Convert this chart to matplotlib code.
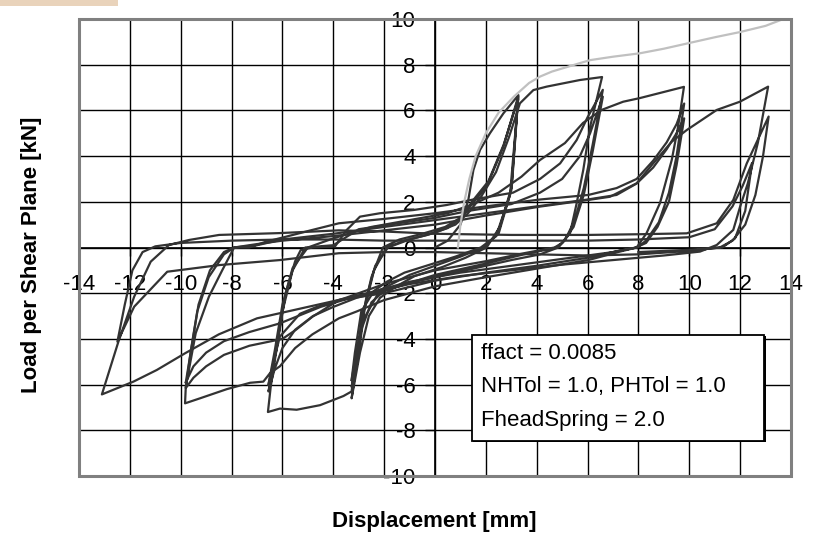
import matplotlib
matplotlib.use("Agg")
import matplotlib.pyplot as plt
import numpy as np
from matplotlib.patches import Rectangle

plt.rcParams["font.family"] = ["Liberation Sans", "DejaVu Sans"]
plt.rcParams["axes.unicode_minus"] = False

# monotonic push-over curve (grey)
mono = [(0.9, 0.0), (1.0, 1.0), (1.15, 2.0), (1.35, 3.0), (1.6, 4.0), (2.0, 5.0),
        (2.5, 5.9), (3.1, 6.6), (3.7, 7.2), (4.13, 7.48), (4.6, 7.7), (5.7, 8.07),
        (6.1, 8.2), (7.0, 8.35), (8.06, 8.5), (9.0, 8.7), (10.0, 8.95),
        (11.0, 9.2), (12.0, 9.43), (13.0, 9.7), (13.7, 10.0)]

# cyclic test, cycles at +/-3.2 mm
cyc_3mm = [(0, 0), (0.5, 0.3), (1.0, 1.0), (1.31, 2.08), (1.51, 3.39), (1.77, 4.27),
           (2.16, 5.0), (2.69, 5.87), (3.28, 6.67),
           (3.02, 2.66), (2.55, 0.9), (2.03, 0.0), (1.2, -0.45), (0.3, -0.85),
           (-0.8, -1.25), (-1.6, -1.75), (-2.16, -2.2), (-2.6, -3.0), (-2.95, -4.6),
           (-3.28, -6.6),
           (-3.05, -4.8), (-2.85, -3.0), (-2.5, -1.3), (-2.05, 0.0), (-1.4, 0.35),
           (-0.5, 0.6), (0.4, 0.9), (1.0, 1.3), (1.38, 1.79), (2.03, 2.66),
           (2.69, 4.41), (3.27, 6.6),
           (3.0, 2.5), (2.5, 0.6), (1.9, 0.0), (1.0, -0.4), (0.0, -0.8), (-1.0, -1.2),
           (-1.7, -1.6), (-2.16, -1.86), (-2.82, -3.17), (-3.08, -5.2), (-3.28, -6.1),
           (-3.0, -4.3), (-2.75, -2.6), (-2.4, -1.0), (-1.9, 0.0), (-1.2, 0.3),
           (-0.3, 0.55), (0.5, 0.85), (1.1, 1.35), (1.45, 2.0), (2.1, 2.9),
           (2.7, 4.5), (3.27, 6.5),
           (2.95, 2.3), (2.4, 0.5), (1.8, 0.0), (0.8, -0.4), (-0.2, -0.75),
           (-1.2, -1.1), (-1.9, -1.5), (-2.4, -1.9), (-2.9, -2.8), (-3.15, -4.6),
           (-3.28, -5.8)]

# cycles at +/-6.5 mm
cyc_6mm = [(-3.28, -5.8), (-3.0, -4.0), (-2.7, -2.2), (-2.35, -0.8), (-1.85, 0.0),
           (-1.0, 0.35), (0.0, 0.65), (0.8, 1.0), (1.3, 1.5), (1.8, 2.2), (2.4, 3.3),
           (2.9, 4.8), (3.34, 6.31), (3.87, 6.89), (4.39, 7.04), (5.7, 7.33),
           (6.57, 7.46),
           (6.1, 5.29), (5.83, 3.39), (5.57, 1.93), (5.31, 0.62), (4.85, 0.0),
           (4.13, -0.3), (3.0, -0.55), (2.0, -0.8), (1.0, -1.05), (0.0, -1.3),
           (-1.0, -1.55), (-2.0, -1.9), (-2.5, -2.4), (-2.9, -3.6), (-3.15, -5.2),
           (-3.28, -6.3), (-3.6, -6.5), (-4.52, -6.9), (-5.44, -7.1), (-6.1, -7.05),
           (-6.57, -7.2),
           (-6.46, -6.09), (-6.13, -3.75), (-5.87, -2.0), (-5.5, -0.6), (-5.28, -0.11),
           (-4.82, 0.0), (-3.93, 0.05), (-3.47, 0.77), (-2.95, 1.35), (-2.16, 1.5),
           (-0.85, 1.64), (0.46, 1.86), (1.5, 2.1), (3.07, 2.4), (4.13, 3.0),
           (4.92, 3.68), (5.57, 4.7), (6.0, 5.7), (6.6, 6.9),
           (6.2, 4.5), (5.85, 2.6), (5.5, 1.2), (5.1, 0.3), (4.8, 0.0), (3.5, -0.3),
           (2.0, -0.7), (0.0, -1.2), (-2.0, -1.9), (-3.08, -2.2), (-4.0, -2.6),
           (-4.8, -3.0), (-5.5, -3.6), (-6.0, -4.4), (-6.3, -5.3), (-6.55, -6.3),
           (-6.3, -4.8), (-6.0, -2.8), (-5.6, -1.0), (-5.1, 0.0), (-4.0, 0.1),
           (-3.0, 0.8), (-1.5, 1.05), (0.0, 1.3), (1.3, 1.6), (3.0, 1.9), (4.13, 2.4),
           (5.0, 3.0), (5.7, 4.0), (6.1, 5.0), (6.6, 6.6),
           (6.2, 4.2), (5.85, 2.3), (5.45, 0.9), (5.0, 0.2), (4.7, 0.0), (3.5, -0.25),
           (2.0, -0.6), (0.0, -1.0), (-2.0, -1.6), (-3.5, -2.2), (-4.65, -2.6),
           (-5.31, -2.9), (-6.1, -3.9), (-6.35, -5.0), (-6.55, -6.0)]

# cycles at +/-9.8 mm
cyc_10mm = [(-6.55, -6.0), (-6.3, -4.5), (-6.0, -2.5), (-5.6, -0.9), (-5.0, 0.0),
            (-4.0, 0.4), (-2.5, 0.9), (-1.0, 1.2), (0.5, 1.5), (1.5, 1.9), (2.5, 2.4),
            (3.4, 3.1), (4.13, 3.83), (5.11, 4.57), (5.82, 5.45), (6.55, 6.02),
            (6.88, 6.16), (7.4, 6.38), (8.06, 6.54), (9.79, 7.03),
            (9.56, 5.29), (9.31, 3.83), (8.85, 1.95), (8.32, 0.63), (7.93, 0.0),
            (7.27, -0.18), (6.03, -0.55), (4.13, -0.9), (2.0, -1.3), (0.0, -1.7),
            (-2.0, -2.3), (-3.08, -2.8), (-3.78, -3.1), (-4.82, -3.8), (-5.5, -4.4),
            (-6.1, -5.2), (-6.49, -5.5), (-6.75, -5.87), (-7.27, -5.92),
            (-8.19, -6.2), (-9.24, -6.6), (-9.83, -6.82),
            (-9.8, -6.09), (-9.41, -3.75), (-8.89, -2.15), (-8.36, -0.98),
            (-7.9, 0.0), (-7.31, 0.0), (-6.66, 0.25), (-5.87, 0.47), (-4.82, 0.77),
            (-3.78, 1.06), (-2.0, 1.25), (0.0, 1.5), (2.0, 1.8), (4.13, 2.1),
            (6.03, 2.3), (7.14, 2.6), (7.93, 3.0), (8.58, 3.8), (9.11, 4.6),
            (9.5, 5.4), (9.8, 6.3),
            (9.5, 4.0), (9.2, 2.4), (8.8, 1.1), (8.3, 0.3), (7.95, 0.0), (7.2, -0.15),
            (6.0, -0.45), (4.0, -0.8), (2.0, -1.1), (0.0, -1.45), (-2.0, -2.0),
            (-3.78, -2.3), (-4.82, -3.03), (-5.48, -3.61), (-6.0, -4.0), (-7.3, -4.3),
            (-8.3, -4.7), (-9.0, -5.2), (-9.5, -5.7), (-9.8, -6.15),
            (-9.6, -4.5), (-9.35, -2.8), (-8.9, -1.3), (-8.3, -0.3), (-7.9, 0.0),
            (-7.0, 0.1), (-6.0, 0.35), (-4.0, 0.6), (-2.0, 0.9), (0.0, 1.2), (2.0, 1.5),
            (4.0, 1.8), (6.0, 2.1), (7.14, 2.3), (7.93, 2.8), (8.58, 3.5), (9.11, 4.3),
            (9.5, 5.0), (9.8, 5.65),
            (9.5, 3.6), (9.2, 2.0), (8.75, 0.9), (8.3, 0.2), (7.9, 0.0), (7.0, -0.2),
            (5.0, -0.5), (3.0, -0.8), (1.0, -1.1), (-1.0, -1.5), (-3.0, -2.1),
            (-4.5, -2.6), (-6.1, -3.32), (-7.3, -3.7), (-8.3, -4.1), (-9.0, -4.6),
            (-9.5, -5.2), (-9.8, -5.9)]

# cycles at +/-13 mm
cyc_13mm = [(-9.8, -5.9), (-9.55, -4.2), (-9.3, -2.5), (-8.85, -1.0), (-8.3, -0.2),
            (-7.9, 0.0), (-7.0, 0.15), (-6.0, 0.3), (-4.0, 0.5), (-2.0, 0.75),
            (0.0, 1.0), (2.0, 1.4), (4.13, 1.79), (6.02, 2.08), (6.88, 2.22),
            (7.93, 2.81), (8.58, 3.68), (9.31, 4.63), (9.9, 5.14), (11.08, 6.02),
            (11.99, 6.38), (13.1, 7.04),
            (12.7, 4.6), (12.3, 2.8), (12.0, 1.79), (11.73, 0.77), (11.08, 0.11),
            (10.42, -0.18), (9.0, -0.35), (7.0, -0.55), (5.0, -0.75), (3.0, -1.0),
            (1.0, -1.25), (-1.0, -1.6), (-3.0, -2.1), (-5.0, -2.6), (-7.0, -3.1),
            (-8.5, -3.8), (-9.83, -4.63), (-10.94, -5.36), (-11.86, -5.87),
            (-13.1, -6.43),
            (-12.45, -4.12), (-11.83, -2.15), (-11.18, -0.62), (-10.46, 0.11),
            (-9.67, 0.33), (-8.49, 0.55), (-6.13, 0.63), (-3.78, 0.75), (-2.0, 0.7),
            (0.0, 0.6), (3.0, 0.55), (6.0, 0.55), (8.0, 0.58), (9.9, 0.62),
            (11.08, 1.06), (11.73, 2.08), (12.26, 3.68), (13.12, 5.73),
            (12.9, 4.0), (12.6, 2.3), (12.2, 1.0), (11.7, 0.3), (11.2, 0.0),
            (10.0, -0.15), (8.0, -0.3), (6.0, -0.35), (4.0, -0.3), (2.0, -0.25),
            (0.0, -0.2), (-2.0, -0.2), (-3.78, -0.25), (-6.1, -0.55), (-8.49, -0.77),
            (-10.53, -1.06), (-11.83, -2.59), (-12.49, -4.12),
            (-12.2, -2.5), (-11.9, -1.0), (-11.5, -0.2), (-11.0, 0.05), (-10.0, 0.2),
            (-8.0, 0.3), (-6.0, 0.35), (-4.0, 0.35), (-2.0, 0.3), (0.0, 0.3),
            (2.0, 0.3), (4.0, 0.3), (6.0, 0.3), (8.0, 0.35), (10.0, 0.45),
            (11.0, 0.8), (11.7, 1.8), (12.1, 2.7), (12.47, 3.7),
            (12.2, 1.6), (11.8, 0.4), (11.3, 0.0), (10.0, -0.1), (8.0, -0.2)]

params = ["ffact = 0.0085", "NHTol = 1.0, PHTol = 1.0", "FheadSpring = 2.0"]

fig = plt.figure(figsize=(8.18, 5.33), dpi=100)
ax = fig.add_axes([79 / 818, 1 - 476 / 533, 712 / 818, 457 / 533])

for cyc in [cyc_3mm, cyc_6mm, cyc_10mm, cyc_13mm]:
    d, f = np.array(cyc).T
    ax.plot(d, f, color="#333333", lw=1.6, zorder=3)
d, f = np.array(mono).T
ax.plot(d, f, color="#c0c0c0", lw=1.6, zorder=3.5)

ax.set_xlim(-14, 14)
ax.set_ylim(-10, 10)
ax.set_xticks(np.arange(-14, 15, 2))
ax.set_yticks(np.arange(-10, 11, 2))
ax.grid(True, color="black", lw=1)
ax.set_axisbelow(True)

ax.spines["left"].set_position(("data", 0))
ax.spines["bottom"].set_position(("data", 0))
for s in ["left", "bottom"]:
    ax.spines[s].set_color("black")
    ax.spines[s].set_linewidth(1.2)
    ax.spines[s].set_zorder(2)
for s in ["top", "right"]:
    ax.spines[s].set_visible(False)
ax.add_patch(Rectangle((0, 0), 1, 1, transform=ax.transAxes, fill=False,
                       ec="#808080", lw=2.2, clip_on=False, zorder=6))

ax.tick_params(axis="x", direction="out", length=6, width=1, pad=13, labelsize=16)
ax.tick_params(axis="y", direction="out", length=7, width=1, pad=7, labelsize=16)

# parameter box
ax.add_patch(Rectangle((1.50, -8.53), 11.5, 4.64, fc="black", ec="none", zorder=7))
ax.add_patch(Rectangle((1.44, -8.47), 11.5, 4.64, fc="white", ec="black", lw=1.3, zorder=8))
for i, txt in enumerate(params):
    ax.text(1.81, -4.62 - 1.47 * i, txt, fontsize=16, va="center", ha="left", zorder=9)

fig.text(32 / 818, 1 - 255 / 533, "Load per Shear Plane [kN]", rotation=90,
         ha="center", va="center", fontsize=16, fontweight="bold")
fig.text(434 / 818, 1 - 521 / 533, "Displacement [mm]", ha="center", va="center",
         fontsize=16, fontweight="bold")

fig.patches.append(Rectangle((0, 1 - 6 / 533), 118 / 818, 6 / 533,
                             transform=fig.transFigure, fc="#e9d3bb", ec="none"))

fig.savefig("out.png", dpi=100)
